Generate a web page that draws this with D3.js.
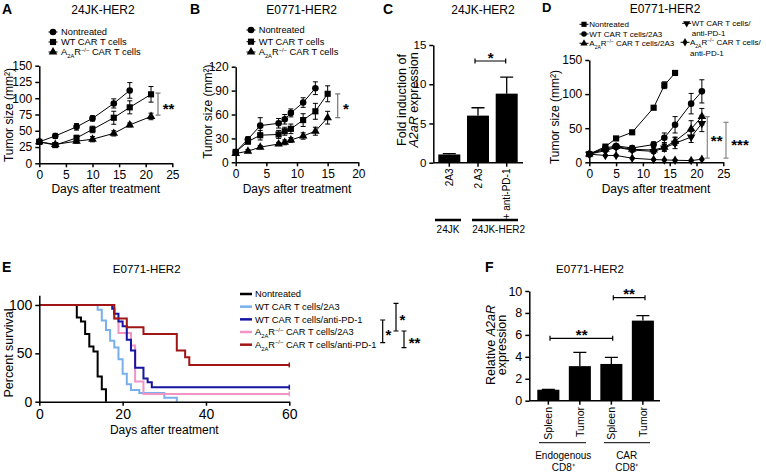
<!DOCTYPE html>
<html><head><meta charset="utf-8">
<script src="https://cdn.jsdelivr.net/npm/d3@7"></script>
<style>body{margin:0;background:#fff}svg{display:block}text{font-family:'Liberation Sans',Arial,sans-serif}</style>
</head><body><script>
// ---------- DATA ----------
// Panel A: 24JK-HER2 tumor growth
const aNonDays = [0,3,7,10,14,17];
const aNonMean = [33,42,56,69,92,112];
const aNonErr  = [3,4,5,4,7,12];
const aWtDays  = [0,3,7,10,14,17,21];
const aWtMean  = [33,28,39,52,70,86,106];
const aWtErr   = [3,3,4,5,10,10,12];
const aKoDays  = [0,3,7,10,14,17,21];
const aKoMean  = [33,29,34,37,46,59,72];
const aKoErr   = [3,2,3,4,4,3,5];
const aXTicks = [0,5,10,15,20,25];
const aYTicks = [0,25,50,75,100,125,150];
// Panel B: E0771-HER2 tumor growth
const bNonDays = [0,2,4,7,8,9,11,13];
const bNonMean = [13,29,46,49,54,62,75,93];
const bNonErr  = [3,3,10,6,6,5,6,8];
const bWtDays  = [0,2,4,7,8,9,11,13,15];
const bWtMean  = [13,26,34,35,39,42,53,64,86];
const bWtErr   = [3,3,6,5,5,6,8,10,10];
const bKoDays  = [0,2,4,7,8,9,11,13,15];
const bKoMean  = [11,14,19,23,25,28,33,39,56];
const bKoErr   = [2,2,2,2,3,3,4,5,8];
const bXTicks = [0,5,10,15,20];
const bYTicks = [0,30,60,90,120];
const abLegend = ["Nontreated","WT CAR T cells","A2AR CAR T cells"];
// Panel C
const cLabels = ["2A3","2 A3","+ anti-PD-1"];
const cValues = [1.05,6.0,8.8];
const cErr    = [0.1,1.0,2.1];
const cYTicks = [0,5,10,15];
const cGroups = ["24JK","24JK-HER2"];
// Panel D
const dNonDays = [0,3,5,8,12,14,16];
const dNonMean = [12,23,35,44,80,113,131];
const dNonErr  = [1,2,2,2,2,5,3];
const dDays    = [0,3,5,8,12,14,16,19,21];
const dWt2a3Mean = [12,21,24,21,26,36,55,86,104];
const dWt2a3Err  = [2,3,3,3,4,7,12,15,17];
const dKo2a3Mean = [12,19,23,19,18,22,31,49,67];
const dKo2a3Err  = [2,3,3,3,3,5,6,12,12];
const dWtPd1Mean = [12,17,22,18,16,21,28,37,57];
const dWtPd1Err  = [2,2,3,3,3,5,8,8,12];
const dKoPd1Mean = [12,10,10,6,4,3.5,3,2.5,4.5];
const dKoPd1Err  = [1,1,1,1,1,1,1,1,1];
const dXTicks = [0,5,10,15,20,25];
const dYTicks = [0,50,100,150];
// Panel E: survival
const eNonT = [0,9,10,11,12,13,14,15,16];
const eNonP = [100,87,83,70,57,52,26,13,0];
const eWt2a3T = [0,14,15,16,17,18,19,20,21,22,24,30,33];
const eWt2a3P = [100,95,84,74,63,56,44,29,18,12,9,4,0];
const eWtPd1T = [0,17.5,18,19,20,21,22,23,25,26,27,60];
const eWtPd1P = [100,96,91,83,78,64,53,35,24,20,15,15];
const eKo2a3T = [0,18,19,22,23,25,60];
const eKo2a3P = [100,86,71,58,21,8,8];
const eKoPd1T = [0,18,21,25,33,35,36,60];
const eKoPd1P = [100,86,77,70,53,46,38,38];
const eLegend = ["Nontreated","WT CAR T cells/2A3","WT CAR T cells/anti-PD-1","A2AR CAR T cells/2A3","A2AR CAR T cells/anti-PD-1"];
const eColors = ["#000000","#78b0ec","#1515a0","#f294c4","#a01515"];
const eXTicks = [0,20,40,60];
const eYTicks = [0,50,100];
// Panel F
const fLabels = ["Spleen","Tumor","Spleen","Tumor"];
const fValues = [1.0,3.15,3.35,7.3];
const fErr    = [0.03,1.25,0.6,0.45];
const fYTicks = [0,2,4,6,8,10];

// ---------- DRAW ----------
const FONT = "'Liberation Sans', Arial, sans-serif";
const svg = d3.select("body").append("svg").attr("width",766).attr("height",474);
svg.append("rect").attr("width",766).attr("height",474).attr("fill","#fff");

function txt(x,y,s,fs,opt={}) {
  const t = svg.append("text").attr("x",x).attr("y",y).attr("font-size",fs).attr("fill","#000").text(s);
  if (opt.anchor) t.attr("text-anchor",opt.anchor);
  if (opt.bold) t.attr("font-weight","bold");
  if (opt.rot) t.attr("transform",`rotate(${opt.rot},${x},${y})`);
  return t;
}
function rich(x,y,parts,fs,opt={}) {
  const t = svg.append("text").attr("x",x).attr("y",y).attr("font-size",fs).attr("fill","#000");
  if (opt.anchor) t.attr("text-anchor",opt.anchor);
  if (opt.rot) t.attr("transform",`rotate(${opt.rot},${x},${y})`);
  let cur = 0;
  parts.forEach(p=>{
    if (typeof p === "string") p = {t:p};
    const off = p.sub ? fs*0.3 : p.sup ? -fs*0.38 : 0;
    const ts = t.append("tspan").attr("dy",off-cur).text(p.t);
    if (p.sub||p.sup) ts.attr("font-size",fs*0.62);
    if (p.it) ts.attr("font-style","italic");
    cur = off;
  });
  return t;
}
const koParts = (rest)=>["A",{t:"2A",sub:true},"R",{t:"−/−",sup:true},rest];

function axes(x,y,xTicks,yTicks,fs,xAxis=true) {
  const g = svg.append("g");
  if (xAxis) {
    const xa = g.append("g").attr("transform",`translate(0,${y.range()[0]})`)
      .call(d3.axisBottom(x).tickValues(xTicks).tickSize(4).tickSizeOuter(0).tickPadding(3));
    style(xa);
  }
  const ya = g.append("g").attr("transform",`translate(${x.range()[0]},0)`)
    .call(d3.axisLeft(y).tickValues(yTicks).tickSize(4).tickSizeOuter(0).tickPadding(3));
  style(ya);
  function style(a){
    a.attr("font-family",FONT).attr("font-size",fs);
    a.selectAll("path,line").attr("stroke","#000").attr("stroke-width",1.5);
    a.selectAll("text").attr("fill","#000");
  }
}
const SYM = {circle:[d3.symbolCircle,34,0],square:[d3.symbolSquare,38,0],tri:[d3.symbolTriangle,32,0],tridown:[d3.symbolTriangle,32,180],diamond:[d3.symbolDiamond,26,0]};
function marker(cx,cy,s,scale=1) {
  const [t,sz,r] = SYM[s];
  svg.append("path").attr("d",d3.symbol(t,sz*scale)()).attr("fill","#000")
    .attr("transform",`translate(${cx},${cy}) rotate(${r})`);
}
function series(x,y,days,mean,err,s) {
  const pts = days.map((d,i)=>({d,m:mean[i],e:err[i]}));
  svg.append("path").datum(pts).attr("d",d3.line().x(p=>x(p.d)).y(p=>y(p.m)))
    .attr("fill","none").attr("stroke","#000").attr("stroke-width",1);
  pts.forEach(p=>{
    const cx = x(p.d), y1 = y(p.m+p.e), y2 = y(Math.max(0,p.m-p.e));
    svg.append("path").attr("d",`M${cx},${y1}V${y2}M${cx-2.5},${y1}H${cx+2.5}M${cx-2.5},${y2}H${cx+2.5}`)
      .attr("stroke","#000").attr("stroke-width",1).attr("fill","none");
  });
  pts.forEach(p=>marker(x(p.d),y(p.m),s));
}
function legendItem(mx,my,s,tx,parts,fs=9.3,ms=1) {
  svg.append("line").attr("x1",mx-4.5).attr("x2",mx+4.5).attr("y1",my).attr("y2",my).attr("stroke","#000").attr("stroke-width",1);
  marker(mx,my,s,ms);
  rich(tx,my+fs*0.36,parts,fs);
}
function vBracket(x,y1,y2,color,cap=2.5) {
  svg.append("path").attr("d",`M${x},${y1}V${y2}M${x-cap},${y1}H${x+cap}M${x-cap},${y2}H${x+cap}`)
    .attr("stroke",color).attr("stroke-width",1.2).attr("fill","none");
}
function hBracket(x1,x2,y) {
  svg.append("path").attr("d",`M${x1},${y}H${x2}M${x1},${y-2.5}V${y+2.5}M${x2},${y-2.5}V${y+2.5}`)
    .attr("stroke","#000").attr("stroke-width",1.2).attr("fill","none");
}
function stars(cx,cy,s,fs=15) { txt(cx,cy+fs*0.52,s,fs,{anchor:"middle",bold:true}); }

// ===== Panel A =====
{
  const x = d3.scaleLinear().domain([0,25]).range([39.3,172.3]);
  const y = d3.scaleLinear().domain([0,150]).range([163.3,65.7]);
  axes(x,y,aXTicks,aYTicks,12);
  series(x,y,aNonDays,aNonMean,aNonErr,"circle");
  series(x,y,aWtDays,aWtMean,aWtErr,"square");
  series(x,y,aKoDays,aKoMean,aKoErr,"tri");
  txt(2,14,"A",14,{bold:true});
  txt(103,13.5,"24JK-HER2",12,{anchor:"middle"});
  legendItem(53,32,"circle",61,[abLegend[0]]);
  legendItem(53,42,"square",61,[abLegend[1]]);
  legendItem(53,52,"tri",61,koParts(" CAR T cells"));
  txt(105.8,193,"Days after treatment",12,{anchor:"middle"});
  txt(13,115,"Tumor size (mm²)",12,{anchor:"middle",rot:-90});
  vBracket(158,y(108),y(74),"#777");
  stars(168.5,106,"**");
}
// ===== Panel B =====
{
  const x = d3.scaleLinear().domain([0,20]).range([235.7,358.3]);
  const y = d3.scaleLinear().domain([0,120]).range([162.3,66.7]);
  axes(x,y,bXTicks,bYTicks,12);
  series(x,y,bNonDays,bNonMean,bNonErr,"circle");
  series(x,y,bWtDays,bWtMean,bWtErr,"square");
  series(x,y,bKoDays,bKoMean,bKoErr,"tri");
  txt(190,14,"B",14,{bold:true});
  txt(301.7,13.5,"E0771-HER2",12,{anchor:"middle"});
  legendItem(251,30,"circle",258.7,[abLegend[0]]);
  legendItem(251,41.7,"square",258.7,[abLegend[1]]);
  legendItem(251,52,"tri",258.7,koParts(" CAR T cells"));
  txt(297,193,"Days after treatment",12,{anchor:"middle"});
  txt(212,111.7,"Tumor size (mm²)",12,{anchor:"middle",rot:-90});
  vBracket(337.7,y(86),y(56),"#777");
  stars(346,106,"*");
}
// ===== Panel C =====
{
  const x = d3.scaleBand().domain(cLabels).range([435,521]).paddingInner(0.233).paddingOuter(0.115);
  const y = d3.scaleLinear().domain([0,15]).range([162.7,45]);
  const ya = svg.append("g").attr("transform","translate(433.3,0)")
    .call(d3.axisLeft(y).tickValues(cYTicks).tickSize(4).tickSizeOuter(0).tickPadding(3));
  ya.attr("font-family",FONT).attr("font-size",11.5);
  ya.selectAll("path,line").attr("stroke","#000").attr("stroke-width",1.5);
  ya.selectAll("text").attr("fill","#000");
  cLabels.forEach((l,i)=>{
    const cx = x(l)+x.bandwidth()/2;
    svg.append("rect").attr("x",x(l)).attr("width",x.bandwidth()).attr("y",y(cValues[i])).attr("height",y(0)-y(cValues[i])).attr("fill","#000");
    svg.append("path").attr("d",`M${cx},${y(cValues[i])}V${y(cValues[i]+cErr[i])}M${cx-6.5},${y(cValues[i]+cErr[i])}H${cx+6.5}`).attr("stroke","#000").attr("stroke-width",1.3);
    svg.append("line").attr("x1",cx).attr("x2",cx).attr("y1",y(0)).attr("y2",y(0)+4).attr("stroke","#000").attr("stroke-width",1.5);
    txt(cx+3.8,168.5,l,10,{anchor:"end",rot:-90});
  });
  svg.append("line").attr("x1",433.3).attr("x2",523).attr("y1",y(0)).attr("y2",y(0)).attr("stroke","#000").attr("stroke-width",1.5);
  txt(383,14,"C",14,{bold:true});
  txt(483,14,"24JK-HER2",12,{anchor:"middle"});
  svg.append("line").attr("x1",435).attr("x2",461).attr("y1",220).attr("y2",220).attr("stroke","#000").attr("stroke-width",2.5);
  svg.append("line").attr("x1",472).attr("x2",518).attr("y1",220).attr("y2",220).attr("stroke","#000").attr("stroke-width",2.5);
  txt(448,233,cGroups[0],10,{anchor:"middle"});
  txt(498.7,233,cGroups[1],10,{anchor:"middle"});
  txt(406,100,"Fold induction of",12.5,{anchor:"middle",rot:-90});
  rich(417.5,100,[{t:"A2aR",it:true}," expression"],12.5,{anchor:"middle",rot:-90});
  hBracket(475,505.7,61);
  stars(490.7,55.5,"*");
}
// ===== Panel D =====
{
  const x = d3.scaleLinear().domain([0,25]).range([589.3,723.3]);
  const y = d3.scaleLinear().domain([0,150]).range([162.3,60]);
  axes(x,y,dXTicks,dYTicks,12);
  series(x,y,dNonDays,dNonMean,dNonErr,"square");
  series(x,y,dDays,dKoPd1Mean,dKoPd1Err,"diamond");
  series(x,y,dDays,dWtPd1Mean,dWtPd1Err,"tridown");
  series(x,y,dDays,dKo2a3Mean,dKo2a3Err,"tri");
  series(x,y,dDays,dWt2a3Mean,dWt2a3Err,"circle");
  txt(542,12,"D",13,{bold:true});
  txt(665,12.5,"E0771-HER2",12,{anchor:"middle"});
  const lf = 8;
  legendItem(584,24.3,"square",589.3,["Nontreated"],lf,0.7);
  legendItem(584,34,"circle",589.3,["WT CAR T cells/2A3"],lf,0.7);
  legendItem(584,43.3,"tri",589.3,koParts(" CAR T cells/2A3"),lf,0.7);
  legendItem(686.7,23.3,"tridown",691.7,["WT CAR T cells/"],lf,0.7);
  rich(691.7,35.8,["anti-PD-1"],lf);
  legendItem(685,42.3,"diamond",690,koParts(" CAR T cells/"),lf,0.8);
  rich(690,56,["anti-PD-1"],lf);
  txt(656,193.3,"Days after treatment",12,{anchor:"middle"});
  txt(559,117,"Tumor size (mm²)",12,{anchor:"middle",rot:-90});
  vBracket(707.3,y(67),y(6),"#888");
  vBracket(726,y(58.6),y(6),"#888");
  stars(716.7,138.3,"**");
  stars(740,141.7,"***");
}
// ===== Panel E =====
{
  const x = d3.scaleLinear().domain([0,60]).range([39.3,289.3]);
  const y = d3.scaleLinear().domain([0,110]).range([401.7,295.3]);
  const curves = [[eNonT,eNonP],[eWt2a3T,eWt2a3P],[eKo2a3T,eKo2a3P],[eWtPd1T,eWtPd1P],[eKoPd1T,eKoPd1P]];
  const colIdx = [0,1,3,2,4];
  curves.forEach((c,k)=>{
    const pts = c[0].map((t,i)=>[t,c[1][i]]);
    svg.append("path").datum(pts).attr("d",d3.line().x(p=>x(p[0])).y(p=>y(p[1])).curve(d3.curveStepAfter))
      .attr("fill","none").attr("stroke",eColors[colIdx[k]]).attr("stroke-width",2);
    const last = pts[pts.length-1];
    if (last[1]>0) svg.append("line").attr("x1",x(last[0])).attr("x2",x(last[0])).attr("y1",y(last[1])-2.5).attr("y2",y(last[1])+2.5).attr("stroke",eColors[colIdx[k]]).attr("stroke-width",1.5);
  });
  axes(x,y,eXTicks,eYTicks,14);
  txt(2,271.7,"E",14,{bold:true});
  txt(146.7,273.3,"E0771-HER2",11.5,{anchor:"middle"});
  txt(164.3,434,"Days after treatment",12,{anchor:"middle"});
  txt(13,353,"Percent survival",12.5,{anchor:"middle",rot:-90});
  eLegend.forEach((l,i)=>{
    const yy = 294+12.67*i;
    svg.append("line").attr("x1",240).attr("x2",252).attr("y1",yy).attr("y2",yy).attr("stroke",eColors[i]).attr("stroke-width",2.5);
    const parts = l.startsWith("A2AR") ? koParts(l.slice(4)) : [l];
    rich(255,yy+3.3,parts,9.3);
  });
  vBracket(382.7,320,342.7,"#000",2.5);
  stars(388.5,331.7,"*");
  vBracket(396,303.3,331,"#000",2.5);
  stars(402.5,316.7,"*");
  vBracket(404,331,347.7,"#000",2.5);
  stars(414.5,340,"**");
}
// ===== Panel F =====
{
  const x = d3.scaleBand().domain(d3.range(fLabels.length)).range([531,660.2]).paddingInner(0.3).paddingOuter(0.2);
  const y = d3.scaleLinear().domain([0,10]).range([400.7,291]);
  const ya = svg.append("g").attr("transform","translate(529.3,0)")
    .call(d3.axisLeft(y).tickValues(fYTicks).tickSize(4).tickSizeOuter(0).tickPadding(3));
  ya.attr("font-family",FONT).attr("font-size",12.5);
  ya.selectAll("path,line").attr("stroke","#000").attr("stroke-width",1.5);
  ya.selectAll("text").attr("fill","#000");
  fLabels.forEach((l,i)=>{
    const cx = x(i)+x.bandwidth()/2;
    svg.append("rect").attr("x",x(i)).attr("width",x.bandwidth()).attr("y",y(fValues[i])).attr("height",y(0)-y(fValues[i])).attr("fill","#000");
    svg.append("path").attr("d",`M${cx},${y(fValues[i])}V${y(fValues[i]+fErr[i])}M${cx-6.5},${y(fValues[i]+fErr[i])}H${cx+6.5}`).attr("stroke","#000").attr("stroke-width",1.3);
    svg.append("line").attr("x1",cx).attr("x2",cx).attr("y1",y(0)).attr("y2",y(0)+4).attr("stroke","#000").attr("stroke-width",1.5);
    txt(cx+3.8,407,l,10.5,{anchor:"end",rot:-90});
  });
  svg.append("line").attr("x1",529.3).attr("x2",660).attr("y1",y(0)).attr("y2",y(0)).attr("stroke","#000").attr("stroke-width",1.5);
  txt(485,271.7,"F",14,{bold:true});
  txt(590,273.3,"E0771-HER2",11.5,{anchor:"middle"});
  svg.append("line").attr("x1",539).attr("x2",586).attr("y1",442.7).attr("y2",442.7).attr("stroke","#000").attr("stroke-width",1);
  svg.append("line").attr("x1",604).attr("x2",650).attr("y1",442.7).attr("y2",442.7).attr("stroke","#000").attr("stroke-width",1);
  txt(563.3,459.3,"Endogenous",10,{anchor:"middle"});
  txt(563.3,470.5,"CD8⁺",10,{anchor:"middle"});
  txt(626.7,459.3,"CAR",10,{anchor:"middle"});
  txt(626.7,470.5,"CD8⁺",10,{anchor:"middle"});
  rich(494.5,345,["Relative ",{t:"A2aR",it:true}],12.5,{anchor:"middle",rot:-90});
  txt(506,345,"expression",12.5,{anchor:"middle",rot:-90});
  hBracket(550,612.7,338.3);
  stars(581.7,331.7,"**");
  hBracket(613.3,645,297.7);
  stars(629,291,"**");
}
</script></body></html>
